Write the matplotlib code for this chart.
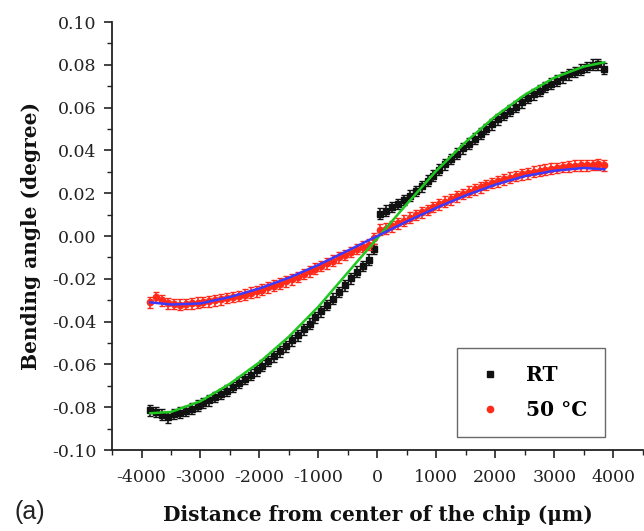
import numpy as np
import matplotlib
matplotlib.use("Agg")
import matplotlib.pyplot as plt
from matplotlib.ticker import MultipleLocator, FuncFormatter
from matplotlib.lines import Line2D

plt.rcParams["axes.unicode_minus"] = False

# position along the chip (um), one reading every 100 um
distance = np.arange(-3850, 3851, 100)

# bending angle at room temperature (degree)
rt_angle = [
    -0.0815, -0.0822, -0.0835, -0.0848, -0.0832, -0.0826, -0.0818, -0.0806,
    -0.0792, -0.0780, -0.0768, -0.0752, -0.0738, -0.0722, -0.0705, -0.0686,
    -0.0668, -0.0648, -0.0628, -0.0606, -0.0584, -0.0562, -0.0538, -0.0515,
    -0.0488, -0.0464, -0.0436, -0.0410, -0.0380, -0.0352, -0.0322, -0.0292,
    -0.0262, -0.0230, -0.0198, -0.0166, -0.0140, -0.0110, -0.0060,
    0.0105, 0.0118, 0.0135, 0.0150, 0.0168, 0.0188, 0.0210, 0.0232,
    0.0258, 0.0282, 0.0310, 0.0335, 0.0360, 0.0385, 0.0410, 0.0432,
    0.0455, 0.0478, 0.0500, 0.0522, 0.0545, 0.0565, 0.0585, 0.0605,
    0.0625, 0.0645, 0.0662, 0.0680, 0.0696, 0.0712, 0.0726, 0.0742,
    0.0755, 0.0766, 0.0777, 0.0790, 0.0800, 0.0803, 0.0782,
]

# bending angle at 50 C (degree)
hot_angle = [
    -0.0310, -0.0285, -0.0300, -0.0315, -0.0318, -0.0320, -0.0318, -0.0315,
    -0.0312, -0.0308, -0.0305, -0.0300, -0.0296, -0.0290, -0.0285, -0.0280,
    -0.0274, -0.0265, -0.0258, -0.0250, -0.0240, -0.0232, -0.0222, -0.0212,
    -0.0202, -0.0192, -0.0178, -0.0165, -0.0152, -0.0140, -0.0128, -0.0115,
    -0.0100, -0.0088, -0.0075, -0.0060, -0.0050, -0.0040, -0.0010,
    0.0030, 0.0035, 0.0045, 0.0060, 0.0072, 0.0085, 0.0098, 0.0110,
    0.0122, 0.0135, 0.0148, 0.0160, 0.0172, 0.0185, 0.0196, 0.0208,
    0.0218, 0.0228, 0.0238, 0.0248, 0.0256, 0.0265, 0.0272, 0.0280,
    0.0288, 0.0293, 0.0300, 0.0305, 0.0310, 0.0315, 0.0318, 0.0322,
    0.0325, 0.0328, 0.0330, 0.0330, 0.0332, 0.0335, 0.0330,
]

rt_err = 0.0025
hot_err = 0.0025

# fitted curves
fit_x = [-3850, -3500, -3000, -2500, -2000, -1500, -1000, -500, 0,
         500, 1000, 1500, 2000, 2500, 3000, 3500, 3850]
rt_fit = [-0.0828, -0.0822, -0.0772, -0.0690, -0.0590, -0.0470, -0.0330, -0.0170, -0.0010,
          0.0150, 0.0305, 0.0440, 0.0560, 0.0660, 0.0740, 0.0792, 0.0812]
hot_fit = [-0.0310, -0.0320, -0.0315, -0.0285, -0.0245, -0.0195, -0.0135, -0.0068, 0.0000,
           0.0068, 0.0132, 0.0190, 0.0240, 0.0280, 0.0305, 0.0318, 0.0312]

serif = "DejaVu Serif"
black = "#111111"
red = "#ff2a1a"

fig = plt.figure(figsize=(6.44, 5.31), dpi=100)
ax = fig.add_axes([0.174, 0.1525, 0.824, 0.806])

ax.errorbar(distance, rt_angle, yerr=rt_err, fmt="s", color=black, ms=4.5,
            elinewidth=1.2, capsize=2, zorder=2)
ax.errorbar(distance, hot_angle, yerr=hot_err, fmt="o", color=red, ms=4.5,
            elinewidth=1.2, capsize=2, zorder=3)
ax.plot(fit_x, rt_fit, color="#1ec81e", lw=1.8, zorder=4)
ax.plot(fit_x, hot_fit, color="#3a3aff", lw=1.8, zorder=5)

ax.set_xlim(-4500, 4500)
ax.set_ylim(-0.10, 0.10)
ax.xaxis.set_major_locator(MultipleLocator(1000))
ax.xaxis.set_minor_locator(MultipleLocator(500))
ax.yaxis.set_major_locator(MultipleLocator(0.02))
ax.yaxis.set_minor_locator(MultipleLocator(0.01))
ax.yaxis.set_major_formatter(FuncFormatter(lambda v, p: f"{0.0 if abs(v) < 1e-9 else v:.2f}"))

for side in ["top", "right"]:
    ax.spines[side].set_visible(False)
for side in ["left", "bottom"]:
    ax.spines[side].set_linewidth(1.3)
    ax.spines[side].set_color("#222222")

ax.tick_params(which="major", direction="out", length=6, width=1.2, color="#222222", pad=5)
ax.tick_params(axis="x", which="major", pad=8)
ax.tick_params(which="minor", direction="out", length=3.5, width=1.0, color="#222222")
for lab in ax.get_xticklabels() + ax.get_yticklabels():
    lab.set_family(serif)
    lab.set_fontsize(12.5)
    lab.set_color("#222222")

ax.set_xlabel("Distance from center of the chip (μm)", family=serif,
              fontweight="bold", fontsize=14.5, labelpad=13, color="#111111")
ax.set_ylabel("Bending angle (degree)", family=serif,
              fontweight="bold", fontsize=14.5, labelpad=8, color="#111111")

handles = [
    Line2D([], [], ls="none", marker="s", ms=4.5, color=black),
    Line2D([], [], ls="none", marker="o", ms=4.5, color=red),
]
leg = ax.legend(handles, ["RT", "50 °C"], loc="lower left", bbox_to_anchor=(0.65, 0.03),
                fancybox=False, edgecolor="#444444",
                prop={"family": serif, "weight": "bold", "size": 14.5},
                handletextpad=1.0, borderpad=0.85, labelspacing=0.75, handlelength=1.6,
                borderaxespad=0)
leg.get_frame().set_linewidth(1.0)

fig.text(0.022, 0.022, "(a)", family="Liberation Sans", fontsize=18, color="#222222")

fig.savefig("out.png", dpi=100)
